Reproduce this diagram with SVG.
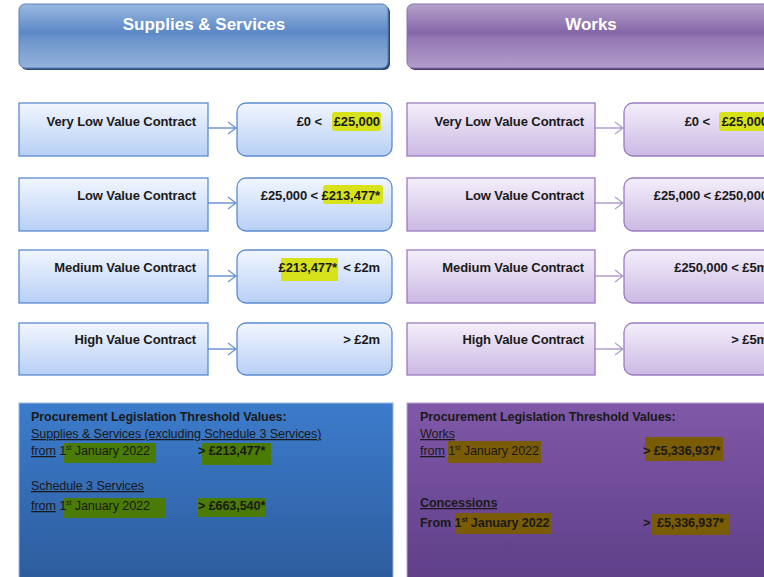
<svg xmlns="http://www.w3.org/2000/svg" width="764" height="577" viewBox="0 0 764 577">
<defs>
<linearGradient id="hdrB" x1="0" y1="0" x2="0" y2="1">
<stop offset="0" stop-color="#9ab8e0"/><stop offset="0.45" stop-color="#5b88c6"/><stop offset="0.55" stop-color="#6d95cc"/><stop offset="1" stop-color="#94b3dc"/>
</linearGradient>
<linearGradient id="hdrP" x1="0" y1="0" x2="0" y2="1">
<stop offset="0" stop-color="#b6a2cc"/><stop offset="0.45" stop-color="#8566a8"/><stop offset="0.55" stop-color="#9579b4"/><stop offset="1" stop-color="#b29ecb"/>
</linearGradient>
<linearGradient id="boxB" x1="0" y1="0" x2="0" y2="1">
<stop offset="0" stop-color="#f2f6fe"/><stop offset="1" stop-color="#b7cff6"/>
</linearGradient>
<linearGradient id="boxP" x1="0" y1="0" x2="0" y2="1">
<stop offset="0" stop-color="#f4effa"/><stop offset="1" stop-color="#cbb9e4"/>
</linearGradient>
<linearGradient id="panB" x1="0" y1="0" x2="0" y2="1">
<stop offset="0" stop-color="#3c7ccc"/><stop offset="1" stop-color="#2d5c9c"/>
</linearGradient>
<linearGradient id="panP" x1="0" y1="0" x2="0" y2="1">
<stop offset="0" stop-color="#8058a8"/><stop offset="1" stop-color="#5e3f88"/>
</linearGradient>
</defs>
<style>
text{font-family:"Liberation Sans",Arial,sans-serif;fill:#1a1a1a;white-space:pre}
.hdr{font-size:17px;font-weight:bold;fill:#ffffff;text-anchor:middle}
.lbl{font-size:13px;font-weight:bold;text-anchor:end;letter-spacing:-0.1px}
.pb{fill:url(#boxB);stroke:#5b8bd0;stroke-width:1.3}
.pp{fill:url(#boxP);stroke:#9a7cc0;stroke-width:1.3}
.cb{stroke:#6d96d2;stroke-width:1.3;fill:none}
.cp{stroke:#b3a0cf;stroke-width:1.3;fill:none}
.t{font-size:12.6px;letter-spacing:-0.1px}
.b{font-weight:bold}
.u{text-decoration:underline}
.yl{fill:#d7e21a}
.gr{fill:#4a7b06}
.br{fill:#7a5b06}
</style>
<g id="hdr-supplies">
<rect x="21" y="6" width="369" height="64" rx="6" fill="#2c4a78"/>
<rect x="19" y="4" width="369" height="64" rx="6" fill="url(#hdrB)" stroke="#5a80b8" stroke-width="1"/>
<text class="hdr" x="204" y="30">Supplies &amp; Services</text>
</g>
<g id="hdr-works">
<rect x="409" y="6" width="370" height="64" rx="6" fill="#4e3672"/>
<rect x="407" y="4" width="370" height="64" rx="6" fill="url(#hdrP)" stroke="#8a70aa" stroke-width="1"/>
<text class="hdr" x="591" y="30">Works</text>
</g>
<g id="connectors">
<path class="cb" d="M208 128H236M228 122L236 128L228 134"/>
<path class="cb" d="M208 203H236M228 197L236 203L228 209"/>
<path class="cb" d="M208 276H236M228 270L236 276L228 282"/>
<path class="cb" d="M208 349H236M228 343L236 349L228 355"/>
<path class="cp" d="M595 128H623M615 122L623 128L615 134"/>
<path class="cp" d="M595 203H623M615 197L623 203L615 209"/>
<path class="cp" d="M595 276H623M615 270L623 276L615 282"/>
<path class="cp" d="M595 349H623M615 343L623 349L615 355"/>
</g>
<g id="ss-vlow">
<rect class="pb" x="19" y="103" width="189" height="53"/>
<text class="lbl" x="196" y="126">Very Low Value Contract</text>
</g>
<g id="ss-vlow-val">
<rect class="pb" x="237" y="103" width="155" height="53" rx="9"/>
<rect class="yl" x="332" y="112" width="49" height="19" rx="3"/>
<text class="lbl" x="322" y="126">£0 &lt;</text>
<text class="lbl" x="380" y="126">£25,000</text>
</g>
<g id="ss-low">
<rect class="pb" x="19" y="178" width="189" height="53"/>
<text class="lbl" x="196" y="200">Low Value Contract</text>
</g>
<g id="ss-low-val">
<rect class="pb" x="237" y="178" width="155" height="53" rx="9"/>
<rect class="yl" x="323" y="185" width="60" height="19" rx="3"/>
<text class="lbl" x="380" y="200">£25,000 &lt; £213,477*</text>
</g>
<g id="ss-med">
<rect class="pb" x="19" y="250" width="189" height="53"/>
<text class="lbl" x="196" y="272">Medium Value Contract</text>
</g>
<g id="ss-med-val">
<rect class="pb" x="237" y="250" width="155" height="53" rx="9"/>
<rect class="yl" x="281" y="258" width="57" height="23"/>
<text class="lbl" x="337" y="272">£213,477*</text>
<text class="lbl" x="380" y="272">&lt; £2m</text>
</g>
<g id="ss-high">
<rect class="pb" x="19" y="323" width="189" height="52"/>
<text class="lbl" x="196" y="344">High Value Contract</text>
</g>
<g id="ss-high-val">
<rect class="pb" x="237" y="323" width="155" height="52" rx="9"/>
<text class="lbl" x="380" y="344">&gt; £2m</text>
</g>
<g id="w-vlow">
<rect class="pp" x="407" y="103" width="188" height="53"/>
<text class="lbl" x="584" y="126">Very Low Value Contract</text>
</g>
<g id="w-vlow-val">
<rect class="pp" x="624" y="103" width="155" height="53" rx="9"/>
<rect class="yl" x="719" y="112" width="49" height="19" rx="3"/>
<text class="lbl" x="710" y="126">£0 &lt;</text>
<text class="lbl" x="768" y="126">£25,000</text>
</g>
<g id="w-low">
<rect class="pp" x="407" y="178" width="188" height="53"/>
<text class="lbl" x="584" y="200">Low Value Contract</text>
</g>
<g id="w-low-val">
<rect class="pp" x="624" y="178" width="155" height="53" rx="9"/>
<text class="lbl" x="768" y="200">£25,000 &lt; £250,000</text>
</g>
<g id="w-med">
<rect class="pp" x="407" y="250" width="188" height="53"/>
<text class="lbl" x="584" y="272">Medium Value Contract</text>
</g>
<g id="w-med-val">
<rect class="pp" x="624" y="250" width="155" height="53" rx="9"/>
<text class="lbl" x="768" y="272">£250,000 &lt; £5m</text>
</g>
<g id="w-high">
<rect class="pp" x="407" y="323" width="188" height="52"/>
<text class="lbl" x="584" y="344">High Value Contract</text>
</g>
<g id="w-high-val">
<rect class="pp" x="624" y="323" width="155" height="52" rx="9"/>
<text class="lbl" x="768" y="344">&gt; £5m</text>
</g>
<g id="panel-ss">
<rect x="19" y="403" width="374" height="180" fill="url(#panB)" stroke="#9bb5dc" stroke-width="1"/>
<rect class="gr" x="64" y="443" width="92" height="20"/>
<rect class="gr" x="202" y="443" width="69" height="22"/>
<rect class="gr" x="63" y="498" width="102" height="20"/>
<rect class="gr" x="198" y="498" width="68" height="19"/>
<text class="t b" x="31" y="421">Procurement Legislation Threshold Values:</text>
<text class="t u" x="31" y="438">Supplies &amp; Services (excluding Schedule 3 Services)</text>
<text class="t" x="31" y="455"><tspan class="u">from</tspan> 1<tspan font-size="7" dy="-5">st</tspan><tspan dy="5"> January 2022</tspan></text>
<text class="t b" x="198" y="455">&gt; £213,477*</text>
<text class="t u" x="31" y="490">Schedule 3 Services</text>
<text class="t" x="31" y="510"><tspan class="u">from</tspan> 1<tspan font-size="7" dy="-5">st</tspan><tspan dy="5"> January 2022</tspan></text>
<text class="t b" x="198" y="510">&gt; £663,540*</text>
</g>
<g id="panel-works">
<rect x="407" y="403" width="370" height="180" fill="url(#panP)" stroke="#b5a3cc" stroke-width="1"/>
<rect class="br" x="448" y="441" width="93" height="22"/>
<rect class="br" x="645" y="437" width="78" height="24"/>
<rect class="br" x="455" y="513" width="97" height="21"/>
<rect class="br" x="651" y="514" width="79" height="21"/>
<text class="t b" x="420" y="421">Procurement Legislation Threshold Values:</text>
<text class="t u" x="420" y="438">Works</text>
<text class="t" x="420" y="455"><tspan class="u">from</tspan> 1<tspan font-size="7" dy="-5">st</tspan><tspan dy="5"> January 2022</tspan></text>
<text class="t b" x="643" y="455">&gt; £5,336,937*</text>
<text class="t b u" x="420" y="507">Concessions</text>
<text class="t b" x="420" y="527">From 1<tspan font-size="7" dy="-5">st</tspan><tspan dy="5"> January 2022</tspan></text>
<text class="t b" x="643" y="527">&gt;  £5,336,937*</text>
</g>
</svg>
